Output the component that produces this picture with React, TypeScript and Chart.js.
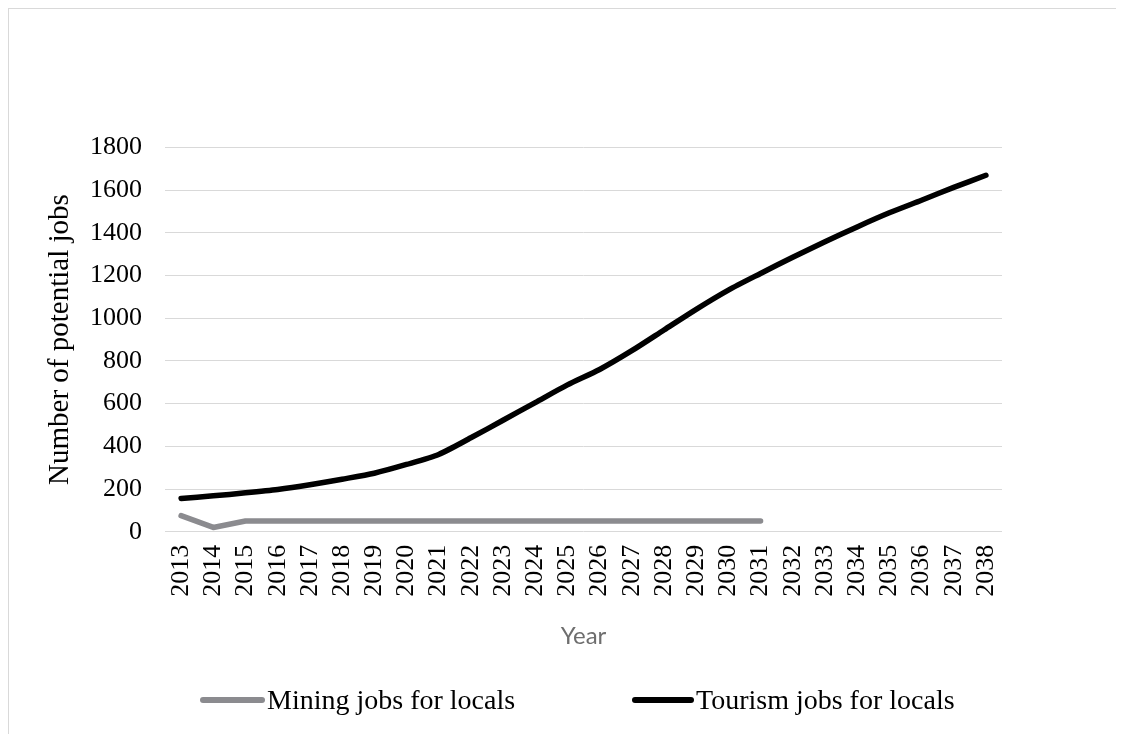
import React, { useEffect, useRef } from "react";
import { Chart, registerables } from "chart.js";

Chart.register(...registerables);

// Category axis: one entry per year
const years = [
  "2013", "2014", "2015", "2016", "2017", "2018", "2019", "2020", "2021",
  "2022", "2023", "2024", "2025", "2026", "2027", "2028", "2029", "2030",
  "2031", "2032", "2033", "2034", "2035", "2036", "2037", "2038",
];

// Mining jobs run 2013–2031 only
const miningJobs = [
  75, 20, 50, 50, 50, 50, 50, 50, 50, 50, 50, 50, 50, 50, 50, 50, 50, 50, 50,
];

// Tourism jobs run across the whole period
const tourismJobs = [
  156, 168, 182, 198, 220, 246, 274, 315, 362, 440, 522, 605, 688, 760, 848,
  945, 1042, 1132, 1210, 1286, 1358, 1428, 1494, 1553, 1613, 1670,
];

const seriesNames = ["Mining jobs for locals", "Tourism jobs for locals"];
const seriesColors = ["#8b8b8f", "#000000"];

const yMin = 0;
const yMax = 1800;
const yStep = 200;

const SERIF = "'Liberation Serif', 'Times New Roman', serif";

export default function App() {
  const canvasRef = useRef<HTMLCanvasElement | null>(null);

  useEffect(() => {
    const canvas = canvasRef.current;
    if (!canvas) return;
    const chart = new Chart(canvas, {
      type: "line",
      data: {
        labels: years,
        datasets: [
          {
            label: seriesNames[0],
            data: miningJobs,
            borderColor: seriesColors[0],
            backgroundColor: seriesColors[0],
            borderWidth: 5.5,
            pointRadius: 0,
            tension: 0,
            borderCapStyle: "round",
            borderJoinStyle: "round",
          },
          {
            label: seriesNames[1],
            data: tourismJobs,
            borderColor: seriesColors[1],
            backgroundColor: seriesColors[1],
            borderWidth: 5.5,
            pointRadius: 0,
            tension: 0.25,
            borderCapStyle: "round",
            borderJoinStyle: "round",
          },
        ],
      },
      options: {
        responsive: false,
        maintainAspectRatio: false,
        animation: false,
        layout: { padding: { left: 0, right: 114, top: 138.5, bottom: 82.3 } },
        plugins: {
          legend: { display: false },
          tooltip: { enabled: false },
        },
        scales: {
          x: {
            type: "category",
            offset: true,
            grid: { display: false, drawTicks: false },
            border: { display: false },
            ticks: {
              autoSkip: false,
              minRotation: 90,
              maxRotation: 90,
              padding: 13,
              color: "#000",
              font: { family: SERIF, size: 26 },
            },
            title: {
              display: true,
              text: "Year",
              color: "#6e6e6e",
              font: { family: "Lato, 'Open Sans', sans-serif", size: 24 },
              padding: { top: 0, bottom: 1 },
            },
            afterFit: (scale: any) => {
              scale.height = 120;
            },
          },
          y: {
            min: yMin,
            max: yMax,
            grid: { color: "#d9d9d9", lineWidth: 1, drawTicks: false },
            border: { display: false },
            ticks: {
              stepSize: yStep,
              padding: 23,
              color: "#000",
              font: { family: SERIF, size: 26 },
              callback: (value: any) => String(value),
            },
            title: {
              display: true,
              text: "Number of potential jobs",
              color: "#000",
              font: { family: SERIF, size: 29 },
              padding: { top: 34, bottom: 0 },
            },
            afterFit: (scale: any) => {
              scale.width = 156;
            },
          },
        },
      },
    });
    return () => chart.destroy();
  }, []);

  const legendItem = (i: number, left: number, lineWidth: number) => (
    <div
      key={seriesNames[i]}
      style={{
        position: "absolute",
        left,
        top: 676,
        height: 30,
        display: "flex",
        alignItems: "center",
        whiteSpace: "nowrap",
      }}
    >
      <span
        style={{
          display: "inline-block",
          width: lineWidth,
          height: 6,
          borderRadius: 3,
          background: seriesColors[i],
          marginRight: 2,
        }}
      />
      <span style={{ fontFamily: SERIF, fontSize: 28, color: "#000", lineHeight: "30px" }}>
        {seriesNames[i]}
      </span>
    </div>
  );

  return (
    <div
      style={{
        position: "relative",
        width: 1108,
        height: 726,
        boxSizing: "border-box",
        borderTop: "1px solid #d9d9d9",
        borderLeft: "1px solid #d9d9d9",
      }}
    >
      <canvas ref={canvasRef} width={1107} height={725} style={{ display: "block" }} />
      {legendItem(0, 191, 65)}
      {legendItem(1, 623, 62)}
    </div>
  );
}
